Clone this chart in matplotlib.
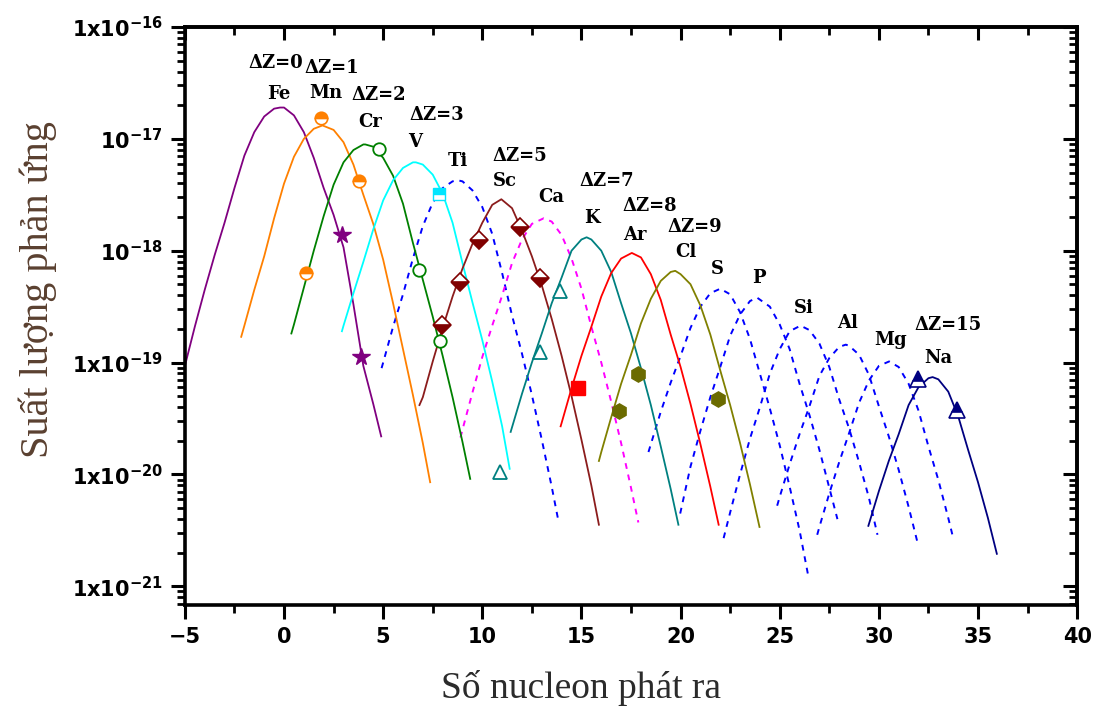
import matplotlib
matplotlib.use("Agg")
from matplotlib import pyplot as plt
from matplotlib.ticker import FixedLocator, FixedFormatter, MultipleLocator, LogLocator, NullFormatter
import numpy as np

# Yield curves, stored as log10(yield) against number of emitted nucleons
fe_x = [-5, -4.5, -4, -3.5, -3, -2.5, -2, -1.5, -1, -0.5, -0.2, 0, 0.5, 1, 1.5, 2, 2.5, 3, 3.5, 4, 4.5, 4.9]
fe_log = [-19.03, -18.68, -18.35, -18.04, -17.75, -17.44, -17.15, -16.94, -16.80, -16.73, -16.72,
          -16.72, -16.79, -16.94, -17.17, -17.44, -17.68, -17.97, -18.48, -19.03, -19.37, -19.66]
mn_x = [-2.16, -2, -1.5, -1, -0.5, 0, 0.5, 1, 1.5, 1.94, 2.5, 3, 3.5, 4, 4.5, 5, 5.5, 6, 6.5, 7, 7.37]
mn_log = [-18.77, -18.67, -18.35, -18.05, -17.71, -17.40, -17.16, -17.00, -16.91, -16.88, -16.92,
          -17.03, -17.23, -17.50, -17.76, -18.08, -18.47, -18.88, -19.29, -19.72, -20.07]
cr_x = [0.37, 0.5, 1, 1.5, 2, 2.5, 3, 3.5, 4, 4.1, 4.5, 5, 5.5, 6, 6.5, 7, 7.5, 8, 8.5, 9, 9.39]
cr_log = [-18.74, -18.66, -18.33, -18.00, -17.69, -17.41, -17.21, -17.10, -17.05, -17.05, -17.07,
          -17.17, -17.33, -17.58, -17.93, -18.26, -18.59, -18.94, -19.31, -19.71, -20.04]
v_x = [2.92, 3, 3.5, 4, 4.5, 5, 5.5, 6, 6.5, 6.65, 7, 7.5, 8, 8.5, 9, 9.5, 10, 10.5, 11, 11.38]
v_log = [-18.72, -18.67, -18.38, -18.10, -17.81, -17.55, -17.37, -17.26, -17.21, -17.21, -17.23,
         -17.32, -17.49, -17.75, -18.11, -18.46, -18.80, -19.17, -19.57, -19.95]
ti_x = [4.92, 5, 5.5, 6, 6.5, 7, 7.5, 8, 8.5, 8.75, 9, 9.5, 10, 10.5, 11, 11.5, 12, 12.5, 13, 13.5, 13.82]
ti_log = [-19.05, -19.00, -18.68, -18.39, -18.07, -17.78, -17.57, -17.44, -17.38, -17.37, -17.38,
          -17.46, -17.61, -17.85, -18.20, -18.58, -18.92, -19.29, -19.69, -20.11, -20.40]
sc_x = [6.83, 7, 7.5, 8, 8.5, 9, 9.5, 10, 10.5, 10.96, 11.5, 12, 12.5, 13, 13.5, 14, 14.5, 15, 15.5, 15.88]
sc_log = [-19.38, -19.31, -18.99, -18.69, -18.41, -18.16, -17.94, -17.75, -17.59, -17.54, -17.62,
          -17.82, -18.05, -18.31, -18.61, -18.94, -19.30, -19.69, -20.10, -20.45]
ca_x = [8.9, 9, 9.5, 10, 10.5, 11, 11.5, 12, 12.5, 13.1, 13.5, 14, 14.5, 15, 15.5, 16, 16.5, 17, 17.5, 17.87]
ca_log = [-19.67, -19.60, -19.27, -18.95, -18.67, -18.40, -18.11, -17.90, -17.76, -17.71, -17.74,
          -17.86, -18.07, -18.34, -18.68, -19.00, -19.35, -19.72, -20.12, -20.43]
k_x = [11.43, 12, 12.5, 13, 13.5, 14, 14.5, 15, 15.26, 15.5, 16, 16.5, 17, 17.5, 18, 18.5, 19, 19.5, 19.89]
k_log = [-19.62, -19.28, -19.00, -18.74, -18.47, -18.24, -18.00, -17.90, -17.88, -17.90, -18.00,
         -18.19, -18.47, -18.74, -19.05, -19.38, -19.75, -20.13, -20.45]
ar_x = [13.95, 14, 14.5, 15, 15.5, 16, 16.5, 17, 17.54, 18, 18.5, 19, 19.5, 20, 20.5, 21, 21.5, 21.92]
ar_log = [-19.57, -19.54, -19.23, -18.94, -18.68, -18.41, -18.20, -18.07, -18.02, -18.06, -18.21,
          -18.44, -18.75, -19.04, -19.37, -19.73, -20.11, -20.45]
cl_x = [15.88, 16, 16.5, 17, 17.5, 18, 18.5, 19, 19.5, 19.73, 20, 20.5, 21, 21.5, 22, 22.5, 23, 23.5, 23.98]
cl_log = [-19.88, -19.80, -19.49, -19.19, -18.93, -18.65, -18.43, -18.27, -18.19, -18.18, -18.21,
          -18.30, -18.49, -18.75, -19.07, -19.38, -19.72, -20.09, -20.47]
s_x = [18.38, 18.5, 19, 19.5, 20, 20.5, 21, 21.5, 22, 22.5, 23, 23.5, 24, 24.5, 25, 25.5, 26, 26.43]
s_log = [-19.80, -19.73, -19.44, -19.18, -18.94, -18.69, -18.50, -18.38, -18.34, -18.39, -18.55,
         -18.79, -19.10, -19.41, -19.74, -20.11, -20.50, -20.90]
p_x = [19.98, 20.5, 21, 21.5, 22, 22.5, 23, 23.5, 23.86, 24.5, 25, 25.5, 26, 26.5, 27, 27.5, 27.91]
p_log = [-20.35, -19.93, -19.61, -19.31, -19.04, -18.76, -18.57, -18.45, -18.42, -18.50, -18.66,
         -18.88, -19.19, -19.47, -19.78, -20.12, -20.40]
si_x = [22.17, 22.5, 23, 23.5, 24, 24.5, 25, 25.5, 26.05, 26.5, 27, 27.5, 28, 28.5, 29, 29.5, 29.93]
si_log = [-20.57, -20.34, -20.00, -19.68, -19.40, -19.10, -18.88, -18.72, -18.67, -18.71, -18.83,
          -19.04, -19.33, -19.59, -19.89, -20.21, -20.54]
al_x = [24.87, 25, 25.5, 26, 26.5, 27, 27.5, 28, 28.33, 28.5, 29, 29.5, 30, 30.5, 31, 31.5, 31.95]
al_log = [-20.28, -20.20, -19.91, -19.64, -19.39, -19.12, -18.96, -18.86, -18.84, -18.85, -18.93,
          -19.11, -19.39, -19.66, -19.96, -20.29, -20.61]
mg_x = [26.89, 27, 27.5, 28, 28.5, 29, 29.5, 30, 30.52, 31, 31.5, 32, 32.5, 33, 33.5, 33.75]
mg_log = [-20.54, -20.47, -20.17, -19.89, -19.63, -19.36, -19.16, -19.03, -18.99, -19.04, -19.19,
          -19.43, -19.75, -20.05, -20.39, -20.57]
na_x = [29.47, 30, 30.5, 31, 31.5, 32, 32.5, 32.71, 33, 33.5, 34, 34.5, 35, 35.5, 35.95]
na_log = [-20.46, -20.15, -19.88, -19.64, -19.38, -19.22, -19.14, -19.13, -19.15, -19.26, -19.48,
          -19.78, -20.07, -20.39, -20.71]

# Measured points
fe_pts_x = [2.90, 3.88]
fe_pts_log = [-17.86, -18.95]
mn_pts_x = [1.10, 1.86, 3.79]
mn_pts_log = [-18.20, -16.81, -17.38]
cr_pts_x = [4.8, 6.83, 7.89]
cr_pts_log = [-17.09, -18.17, -18.81]
v_pts_x = [7.84]
v_pts_log = [-17.49]
sc_pts_x = [7.98, 8.85, 9.83, 11.89, 12.90]
sc_pts_log = [-18.66, -18.28, -17.90, -17.79, -18.24]
k_pts_x = [10.88, 12.90, 13.91]
k_pts_log = [-19.98, -18.91, -18.36]
ar_pts_x = [14.84]
ar_pts_log = [-19.23]
cl_pts_x = [16.89, 17.87, 21.87]
cl_pts_log = [-19.43, -19.10, -19.33]
na_pts_x = [31.95, 33.94]
na_pts_log = [-19.15, -19.42]

# Text labels
label_text = ["\u0394Z=0", "\u0394Z=1", "Fe", "Mn", "\u0394Z=2", "Cr", "\u0394Z=3", "V", "Ti",
              "\u0394Z=5", "Sc", "Ca", "\u0394Z=7", "K", "\u0394Z=8", "Ar", "\u0394Z=9", "Cl",
              "S", "P", "Si", "Al", "Mg", "\u0394Z=15", "Na"]
label_x = [-0.4, 2.43, -0.25, 2.12, 4.8, 4.35, 7.69, 6.63, 8.75,
           11.89, 11.13, 13.5, 16.29, 15.53, 18.46, 17.7, 20.74, 20.28,
           21.85, 23.93, 26.2, 28.43, 30.6, 33.49, 32.98]
label_log = [-16.32, -16.37, -16.60, -16.59, -16.61, -16.85, -16.79, -17.03, -17.20,
             -17.15, -17.38, -17.52, -17.38, -17.71, -17.60, -17.86, -17.79, -18.01,
             -18.16, -18.24, -18.51, -18.65, -18.80, -18.66, -18.96]

ytick_vals = [1e-21, 1e-20, 1e-19, 1e-18, 1e-17, 1e-16]
ytick_labels = [r"1x10$^{\mathbf{-21}}$", r"1x10$^{\mathbf{-20}}$", r"1x10$^{\mathbf{-19}}$",
                r"10$^{\mathbf{-18}}$", r"10$^{\mathbf{-17}}$", r"1x10$^{\mathbf{-16}}$"]

plt.rcParams["mathtext.fontset"] = "dejavusans"

fig = plt.figure(figsize=(10.94, 7.07), dpi=100)
ax = fig.add_axes([0.169, 0.1443, 0.8156, 0.8175])

solid = [(fe_x, fe_log, "#800080"), (mn_x, mn_log, "#ff8000"), (cr_x, cr_log, "#008000"),
         (v_x, v_log, "#00ffff"), (sc_x, sc_log, "#8b1c1c"), (k_x, k_log, "#008080"),
         (ar_x, ar_log, "#ff0000"), (cl_x, cl_log, "#808000"), (na_x, na_log, "#000080")]
dashed = [(ti_x, ti_log, "#0000ff"), (ca_x, ca_log, "#ff00ff"), (s_x, s_log, "#0000ff"),
          (p_x, p_log, "#0000ff"), (si_x, si_log, "#0000ff"), (al_x, al_log, "#0000ff"),
          (mg_x, mg_log, "#0000ff")]

for xs, ys, col in dashed:
    ax.plot(xs, 10.0 ** np.array(ys), color=col, lw=1.4, linestyle=(0, (3, 3)))
for xs, ys, col in solid:
    ax.plot(xs, 10.0 ** np.array(ys), color=col, lw=1.3)

# marker sets
ax.plot(fe_pts_x, 10.0 ** np.array(fe_pts_log), "*", color="#800080", ms=13, ls="none")
ax.plot(mn_pts_x, 10.0 ** np.array(mn_pts_log), "o", color="#ff8000", mfc="#ff8000",
        fillstyle="top", markerfacecoloralt="white", ms=9, mew=1.2, ls="none")
ax.plot(cr_pts_x, 10.0 ** np.array(cr_pts_log), "o", color="#008000", mfc="white",
        ms=9, mew=1.3, ls="none")
ax.plot(v_pts_x, 10.0 ** np.array(v_pts_log), "s", color="#00e5ff", fillstyle="top",
        markerfacecoloralt="white", ms=8, ls="none")
ax.plot(sc_pts_x, 10.0 ** np.array(sc_pts_log), "D", color="#800000", fillstyle="bottom",
        markerfacecoloralt="white", ms=9, mew=1.2, ls="none")
ax.plot(k_pts_x, 10.0 ** np.array(k_pts_log), "^", color="#008080", mfc="white",
        ms=10, mew=1.3, ls="none")
ax.plot(ar_pts_x, 10.0 ** np.array(ar_pts_log), "s", color="#ff0000", ms=10, ls="none")
ax.plot(cl_pts_x, 10.0 ** np.array(cl_pts_log), "h", color="#6b6b00", ms=11, ls="none")
ax.plot(na_pts_x, 10.0 ** np.array(na_pts_log), "^", color="#000080", fillstyle="top",
        markerfacecoloralt="white", ms=11, mew=1.2, ls="none")

for txt, lx, ly in zip(label_text, label_x, label_log):
    ax.text(lx, 10.0 ** ly, txt, ha="center", va="center", fontsize=13,
            fontweight="bold", family="DejaVu Serif", color="black")

ax.set_yscale("log")
ax.set_xlim(-5, 40)
ax.set_ylim(6.8e-22, 1e-16)

ax.xaxis.set_major_locator(MultipleLocator(5))
ax.xaxis.set_minor_locator(MultipleLocator(2.5))
ax.yaxis.set_major_locator(FixedLocator(ytick_vals))
ax.yaxis.set_major_formatter(FixedFormatter(ytick_labels))
ax.yaxis.set_minor_locator(LogLocator(base=10, subs=np.arange(2, 10)))
ax.yaxis.set_minor_formatter(NullFormatter())

for lab in ax.get_xticklabels() + ax.get_yticklabels():
    lab.set_fontweight("bold")
    lab.set_fontsize(15)
    lab.set_family("DejaVu Sans")

ax.tick_params(which="major", direction="out", length=10, width=2.2, top=False, right=False, pad=6)
ax.tick_params(which="minor", direction="out", length=6, width=2.0, top=False, right=False)

for sp in ax.spines.values():
    sp.set_linewidth(2.6)

# inward ticks on the top and right edges
top = ax.secondary_xaxis("top")
top.xaxis.set_major_locator(MultipleLocator(5))
top.xaxis.set_minor_locator(MultipleLocator(2.5))
top.tick_params(which="major", direction="in", length=9, width=2.2, labeltop=False)
top.tick_params(which="minor", direction="in", length=6, width=2.0)
top.spines["top"].set_linewidth(2.6)

right = ax.secondary_yaxis("right")
right.yaxis.set_major_locator(FixedLocator(ytick_vals))
right.yaxis.set_minor_locator(LogLocator(base=10, subs=np.arange(2, 10)))
right.yaxis.set_minor_formatter(NullFormatter())
right.tick_params(which="major", direction="in", length=10, width=2.2, labelright=False)
right.tick_params(which="minor", direction="in", length=6, width=2.0)
right.spines["right"].set_linewidth(2.6)

ax.set_xlabel("S\u1ed1 nucleon ph\u00e1t ra", family="Liberation Serif", fontsize=27,
              color="#2b2b2b")
ax.set_ylabel("Su\u1ea5t l\u01b0\u1ee3ng ph\u1ea3n \u1ee9ng", family="Liberation Serif",
              fontsize=29, color="#5a4030")
ax.xaxis.set_label_coords(0.444, -0.113)
ax.yaxis.set_label_coords(-0.143, 0.545)

fig.savefig("out.png", dpi=100)
